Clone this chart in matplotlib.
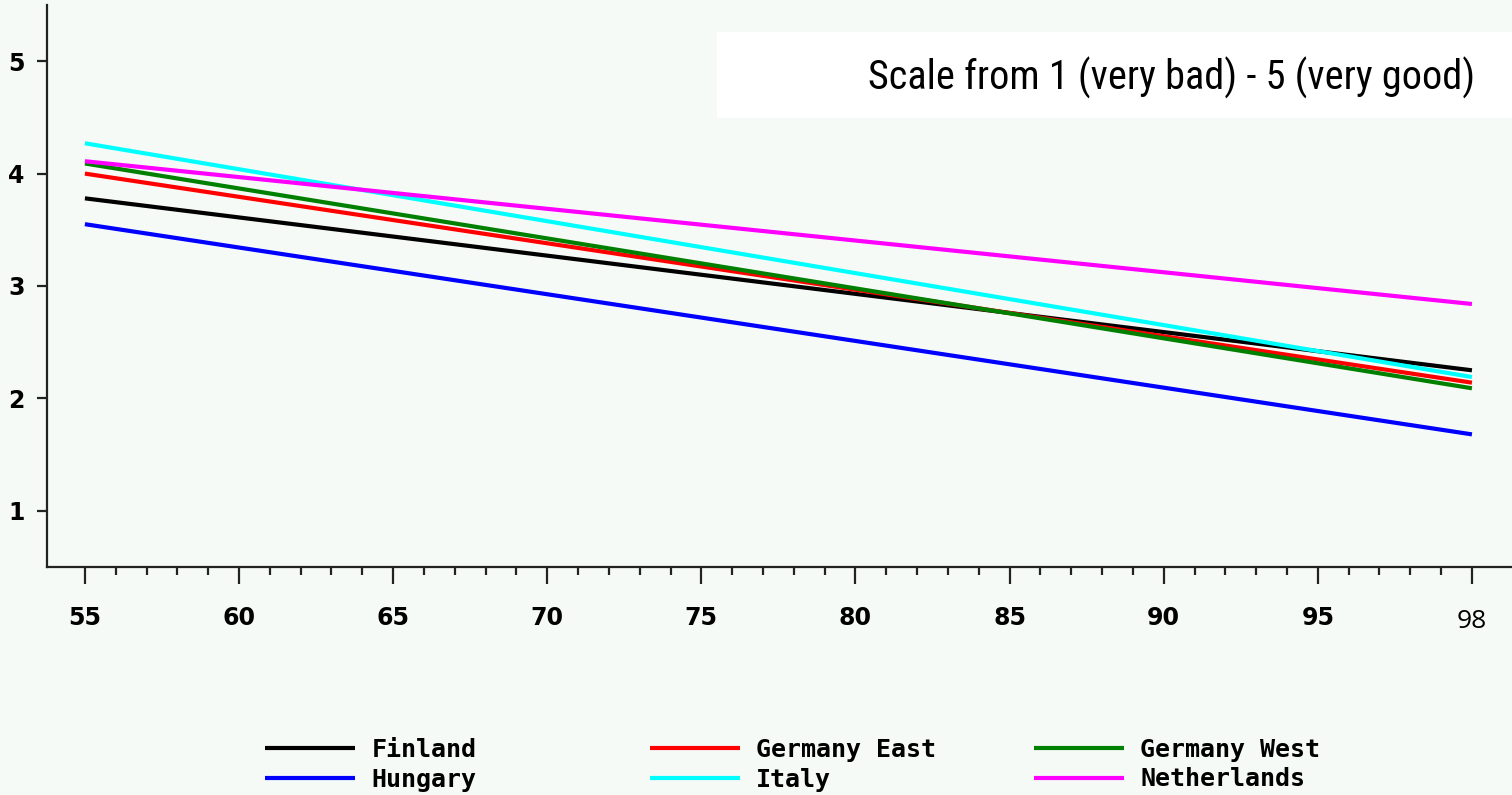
import matplotlib
matplotlib.use("Agg")
import matplotlib.pyplot as plt
from matplotlib.ticker import FixedLocator
from matplotlib import font_manager as fm

countries = ["Finland", "Germany East", "Germany West", "Hungary", "Italy", "Netherlands"]
colors = ["#000000", "#ff0000", "#008000", "#0000ff", "#00ffff", "#ff00ff"]
age = [55, 100]
finland = [3.78, 2.25]
germany_east = [4.00, 2.14]
germany_west = [4.09, 2.09]
hungary = [3.55, 1.68]
italy = [4.27, 2.19]
netherlands = [4.11, 2.84]
series = [finland, germany_east, germany_west, hungary, italy, netherlands]

x_ticks = [55, 60, 65, 70, 75, 80, 85, 90, 95, 100]
x_labels = ["55", "60", "65", "70", "75", "80", "85", "90", "95", "98"]
y_ticks = [1, 2, 3, 4, 5]
note = "Scale from 1 (very bad) - 5 (very good)"

bg = "#f6faf7"
fig = plt.figure(figsize=(15.12, 7.95), dpi=100, facecolor=bg)
ax = fig.add_axes([47/1512, 1-567/795, 1-47/1512, (567-5)/795])
ax.set_facecolor(bg)

lines = {}
for name, vals, c in zip(countries, series, colors):
    (ln,) = ax.plot(age, vals, color=c, lw=3, label=name, solid_capstyle="butt")
    lines[name] = ln

ax.set_xlim(53.77, 101.3)
ax.set_ylim(0.5, 5.5)
for s in ["top", "right"]:
    ax.spines[s].set_visible(False)
for s in ["left", "bottom"]:
    ax.spines[s].set_color("#222222")
    ax.spines[s].set_linewidth(1.6)

ax.set_xticks(x_ticks)
ax.set_xticklabels(x_labels)
ax.xaxis.set_minor_locator(FixedLocator([v for v in range(56, 100) if v % 5]))
ax.set_yticks(y_ticks)
ax.set_yticklabels([str(v) for v in y_ticks])
ax.tick_params(axis="x", which="major", length=12, width=1.6, color="#222222", pad=16,
               labelsize=17, direction="out")
ax.tick_params(axis="x", which="minor", length=6, width=1.6, color="#222222")
ax.tick_params(axis="y", which="major", length=7, width=1.6, color="#222222", pad=9,
               labelsize=17)
for lab in ax.get_xticklabels() + ax.get_yticklabels():
    lab.set_fontfamily("DejaVu Sans")
    lab.set_fontweight("bold")
last = ax.get_xticklabels()[-1]
last.set_fontfamily(["Open Sans", "DejaVu Sans"])
last.set_fontweight("normal")
last.set_fontsize(19)
last.set_y(-0.006)

# note box
fig.patches.append(plt.Rectangle((717/1512, 1-118/795), 1-717/1512, 86/795,
                                 transform=fig.transFigure, facecolor="white",
                                 edgecolor="none", zorder=5))
avail = {f.name for f in fm.fontManager.ttflist}
narrow = [f for f in ["Liberation Sans Narrow", "Roboto Condensed", "Open Sans Condensed",
                      "Arial Narrow"] if f in avail]
if narrow:
    fam, fsz = [narrow[0], "DejaVu Sans"], 29
else:
    fam, fsz = ["Liberation Sans", "DejaVu Sans"], 23.5
fig.text(1475/1512, 1-78/795, note, ha="right", va="center", fontsize=fsz,
         family=fam, zorder=6)

# legend in three columns
cols = [["Finland", "Hungary"], ["Germany East", "Italy"], ["Germany West", "Netherlands"]]
col_x = [265, 650, 1034]
for names, xpx in zip(cols, col_x):
    fig.legend([lines[n] for n in names], names, loc="upper left",
               bbox_to_anchor=(xpx/1512, 1-738/795), frameon=False,
               borderpad=0, borderaxespad=0, handlelength=3.6,
               handletextpad=0.65, labelspacing=0.22,
               prop=fm.FontProperties(family="DejaVu Sans Mono", weight="bold", size=18))

fig.savefig("out.png", dpi=100, facecolor=bg)
